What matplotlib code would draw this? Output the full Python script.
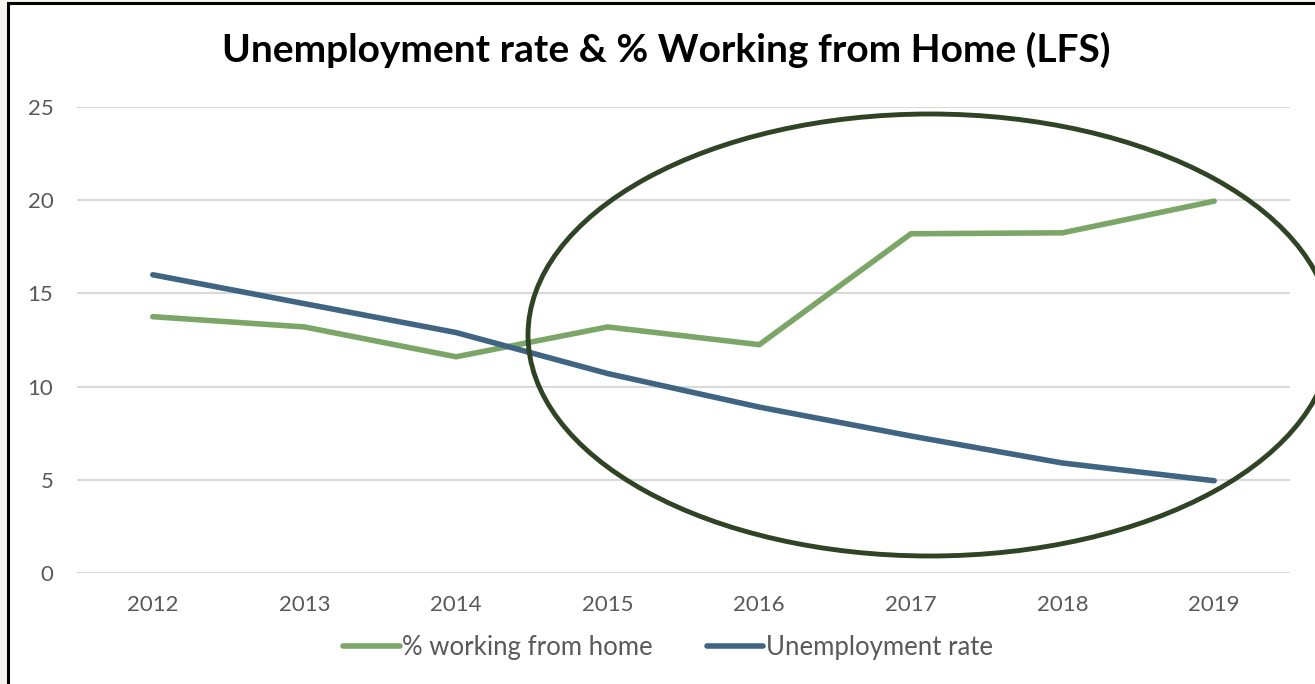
import matplotlib.pyplot as plt
from matplotlib.patches import Ellipse, Rectangle

years = ['2012', '2013', '2014', '2015', '2016', '2017', '2018', '2019']
wfh = [13.75, 13.2, 11.6, 13.2, 12.25, 18.2, 18.25, 19.95]
unemployment = [16.0, 14.45, 12.9, 10.7, 8.9, 7.35, 5.9, 4.95]

green = '#7ba668'
blue = '#3f6583'
plt.rcParams['font.family'] = ['Lato', 'DejaVu Sans']

W, H = 1315, 684
fig = plt.figure(figsize=(W / 100, H / 100), dpi=100, facecolor='#f4f3ec')

# white chart frame with black border (runs off the right and bottom)
fig.patches.append(Rectangle((8 / W, -0.05), 1.1, (H - 3) / H + 0.05, transform=fig.transFigure,
                             facecolor='white', edgecolor='black', linewidth=2.2, zorder=-5))

ax = fig.add_axes([77 / W, 1 - 573 / H, (1290 - 77) / W, (573 - 107) / H])
ax.set_facecolor('none')
x = range(len(years))
ax.plot(x, wfh, color=green, linewidth=4, solid_capstyle='round', label='% working from home')
ax.plot(x, unemployment, color=blue, linewidth=4, solid_capstyle='round', label='Unemployment rate')

ax.set_xlim(-0.5, len(years) - 0.5)
ax.set_ylim(0, 25)
ax.set_yticks(range(0, 26, 5))
ax.set_xticks(list(x))
ax.set_xticklabels(years)
ax.grid(axis='y', color='#d9d9d9', linewidth=1.5)
ax.set_axisbelow(True)
for s in ax.spines.values():
    s.set_visible(False)
ax.tick_params(length=0, labelsize=16, labelcolor='#595959')
ax.tick_params(axis='y', pad=17)
ax.tick_params(axis='x', pad=16)

fig.text(666 / W, 1 - 50 / H, 'Unemployment rate & % Working from Home (LFS)',
         ha='center', va='center', fontsize=28, fontweight='bold', color='black')

leg = fig.legend(loc='center', bbox_to_anchor=(668 / W, 1 - 647 / H), ncol=2, frameon=False,
                 fontsize=18.5, handlelength=2.2, handletextpad=0.1, columnspacing=2.1)
for t in leg.get_texts():
    t.set_color('#595959')

# highlight ring around 2015-2019
fig.patches.append(Ellipse((930 / W, 1 - 335 / H), 804 / W, 442 / H, transform=fig.transFigure,
                           fill=False, edgecolor='#2f4425', linewidth=3.5, zorder=5))

fig.savefig('out.png', dpi=100, facecolor=fig.get_facecolor())
